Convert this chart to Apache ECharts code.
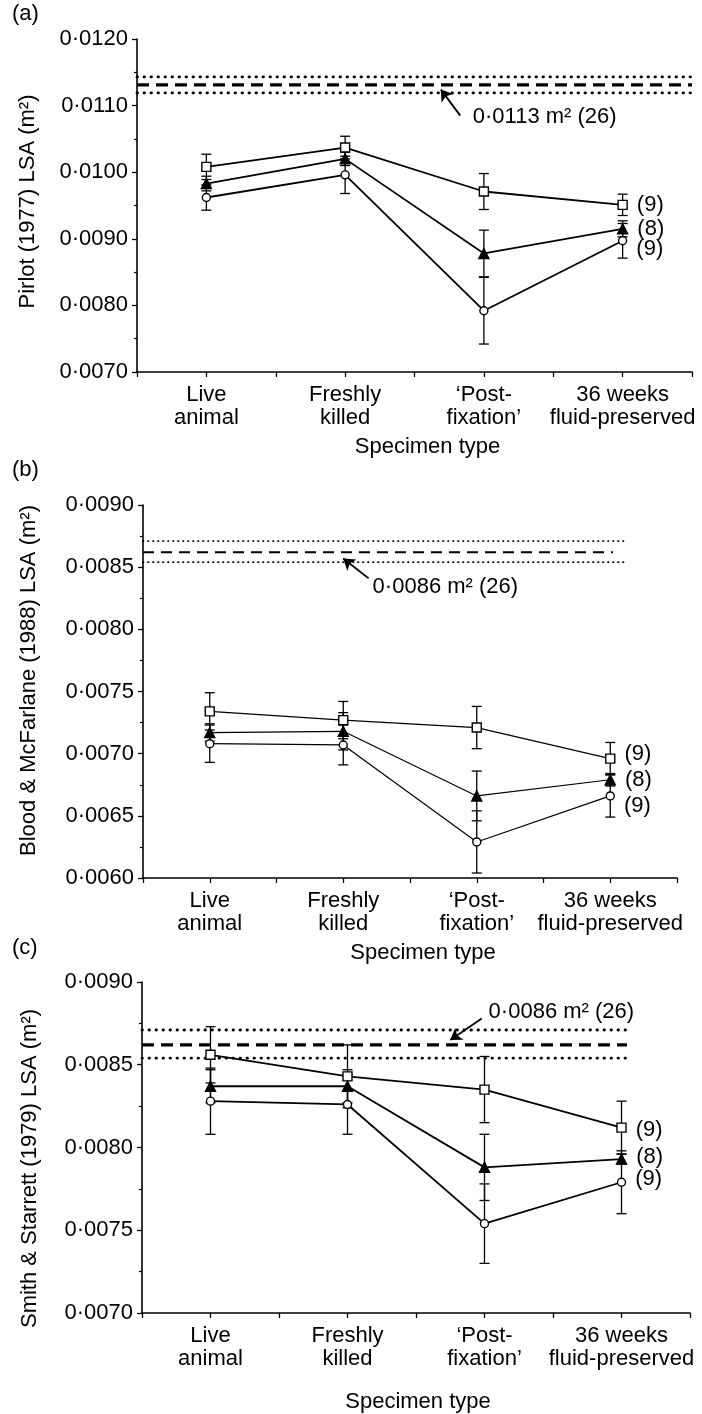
<!DOCTYPE html>
<html><head><meta charset="utf-8">
<script src="https://cdn.jsdelivr.net/npm/echarts@6/dist/echarts.min.js"></script>
<style>html,body{margin:0;padding:0;background:#fff}#c{width:702px;height:1414px}</style>
</head><body><div id="c"></div>
<script>
// ---------- DATA ----------
const categories = ['Live\nanimal', 'Freshly\nkilled', '\u2018Post-\nfixation\u2019', '36 weeks\nfluid-preserved'];
const sampleSizes = ['(9)', '(8)', '(9)']; // square, triangle, circle

// Panel (a) Pirlot (1977)
const aSquare = [0.01008, 0.01037, 0.00971, 0.00951];
const aSquareErr = [0.00019, 0.00017, 0.00027, 0.00016];
const aTriangle = [0.00983, 0.01020, 0.00878, 0.00915];
const aTriangleErr = [0.00011, 0.00010, 0.00035, 0.00012];
const aCircle = [0.00962, 0.00996, 0.00792, 0.00897];
const aCircleErr = [0.00019, 0.00028, 0.00050, 0.00026];
const aRef = [0.01119, 0.01131, 0.01143]; // low, mean, high
const aRefLabel = '0\u00b70113 m\u00b2 (26)';

// Panel (b) Blood & McFarlane (1988)
const bSquare = [0.00734, 0.00727, 0.00721, 0.00696];
const bSquareErr = [0.00015, 0.00015, 0.00017, 0.00013];
const bTriangle = [0.00717, 0.00718, 0.00666, 0.00679];
const bTriangleErr = [0.00007, 0.00015, 0.00020, 0.00005];
const bCircle = [0.00708, 0.00707, 0.00629, 0.00666];
const bCircleErr = [0.00015, 0.00016, 0.00025, 0.00017];
const bRef = [0.00854, 0.00862, 0.00871];
const bRefLabel = '0\u00b70086 m\u00b2 (26)';

// Panel (c) Smith & Starrett (1979)
const cSquare = [0.00856, 0.00843, 0.00835, 0.00812];
const cSquareErr = [0.00017, 0.00019, 0.00020, 0.00016];
const cTriangle = [0.00837, 0.00837, 0.00788, 0.00793];
const cTriangleErr = [0.00010, 0.00010, 0.00020, 0.00003];
const cCircle = [0.00828, 0.00826, 0.00754, 0.00779];
const cCircleErr = [0.00020, 0.00018, 0.00024, 0.00019];
const cRef = [0.00854, 0.00862, 0.00871];
const cRefLabel = '0\u00b70086 m\u00b2 (26)';

// ---------- LAYOUT ----------
const FONT = '"Liberation Sans", Arial, Helvetica, sans-serif';
const panels = [
  { tag: '(a)', tagY: 3, name: 'Pirlot (1977) LSA (m\u00b2)',
    grid: { left: 137, top: 39, width: 555, height: 333 },
    y: { min: 0.007, max: 0.012, interval: 0.001 },
    nameGap: 98, namePad: [0, 0, 0, 8], xNameGap: 64, xNamePad: [0, 0, 0, 26],
    sq: aSquare, sqE: aSquareErr, tr: aTriangle, trE: aTriangleErr, ci: aCircle, ciE: aCircleErr,
    ref: aRef, refLabel: aRefLabel, refEnd: [3.5, 3.5, 3.5], thick: true,
    arrow: [[1.83, 0.01085], [1.69, 0.01124]], text: [1.92, 0.01083],
    endOffsets: [0, 0, 8], lw: 1.8 },
  { tag: '(b)', tagY: 459, name: 'Blood & McFarlane (1988) LSA (m\u00b2)',
    grid: { left: 143, top: 505, width: 534, height: 373 },
    y: { min: 0.006, max: 0.009, interval: 0.0005 },
    nameGap: 103, namePad: [0, 0, 0, 22], xNameGap: 64, xNamePad: [0, 0, 0, 26],
    sq: bSquare, sqE: bSquareErr, tr: bTriangle, trE: bTriangleErr, ci: bCircle, ciE: bCircleErr,
    ref: bRef, refLabel: bRefLabel, refEnd: [3.12, 3.02, 3.12], thick: false,
    arrow: [[1.19, 0.00841], [1.0, 0.00857]], text: [1.22, 0.00834],
    endOffsets: [-5, 0, 10], lw: 1.2 },
  { tag: '(c)', tagY: 937, name: 'Smith & Starrett (1979) LSA (m\u00b2)',
    grid: { left: 142, top: 982, width: 548, height: 331 },
    y: { min: 0.007, max: 0.009, interval: 0.0005 },
    nameGap: 101, namePad: [0, 42, 0, 0], xNameGap: 78, xNamePad: [0, 0, 0, 4],
    sq: cSquare, sqE: cSquareErr, tr: cTriangle, trE: cTriangleErr, ci: cCircle, ciE: cCircleErr,
    ref: cRef, refLabel: cRefLabel, refEnd: [3.04, 3.04, 3.04], thick: true,
    arrow: [[1.98, 0.00878], [1.75, 0.00865]], text: [2.03, 0.00882],
    endOffsets: [2, -2, -3], lw: 1.8 }
];

const grids = [], xAxes = [], yAxes = [], series = [], graphics = [];

function fmtY(v) { return v.toFixed(4).replace('.', '\u00b7'); }

function errorSeries(idx, means, errs) {
  return {
    type: 'custom', xAxisIndex: idx, yAxisIndex: idx, z: 2, silent: true,
    data: means.map((m, i) => [i, m, errs[i]]),
    renderItem: function (params, api) {
      const x = api.value(0), m = api.value(1), e = api.value(2);
      const top = api.coord([x, m + e]);
      const bot = api.coord([x, m - e]);
      const cw = 5;
      const st = { stroke: '#000', lineWidth: 1.3 };
      return { type: 'group', children: [
        { type: 'line', shape: { x1: top[0], y1: top[1], x2: bot[0], y2: bot[1] }, style: st },
        { type: 'line', shape: { x1: top[0] - cw, y1: top[1], x2: top[0] + cw, y2: top[1] }, style: st },
        { type: 'line', shape: { x1: bot[0] - cw, y1: bot[1], x2: bot[0] + cw, y2: bot[1] }, style: st }
      ]};
    }
  };
}

panels.forEach((p, idx) => {
  grids.push(Object.assign({}, p.grid));
  xAxes.push({
    type: 'value', gridIndex: idx, min: -0.5, max: 3.5, interval: 0.5,
    name: 'Specimen type', nameLocation: 'middle', nameGap: p.xNameGap,
    nameTextStyle: { fontFamily: FONT, fontSize: 22, color: '#000', padding: p.xNamePad },
    axisLine: { show: true, onZero: false, lineStyle: { color: '#000', width: 1.6 } },
    axisTick: { show: true, length: 5, lineStyle: { color: '#000', width: 1.3 } },
    splitLine: { show: false },
    axisLabel: {
      show: true, margin: 11, fontFamily: FONT, fontSize: 22, color: '#000', lineHeight: 23,
      showMinLabel: true, showMaxLabel: true,
      formatter: function (v) {
        const r = Math.round(v);
        return (Math.abs(v - r) < 1e-6 && r >= 0 && r < categories.length) ? categories[r] : '';
      }
    }
  });
  yAxes.push({
    type: 'value', gridIndex: idx, min: p.y.min, max: p.y.max, interval: p.y.interval,
    name: p.name, nameLocation: 'middle', nameRotate: 90, nameGap: p.nameGap,
    nameTextStyle: { fontFamily: FONT, fontSize: 22, color: '#000', padding: p.namePad },
    axisLine: { show: true, onZero: false, lineStyle: { color: '#000', width: 1.6 } },
    axisTick: { show: true, length: 5, lineStyle: { color: '#000', width: 1.3 } },
    minorTick: { show: true, splitNumber: 2, length: 3, lineStyle: { color: '#000', width: 1.2 } },
    splitLine: { show: false }, minorSplitLine: { show: false },
    axisLabel: { margin: 9, fontFamily: FONT, fontSize: 22, color: '#000', formatter: fmtY }
  });

  // reference band lines (low dotted, mean dashed, high dotted)
  const dotStyle = p.thick ? { width: 2.8, type: [0.5, 6.5], cap: 'round' } : { width: 1.7, type: [0.5, 4.5], cap: 'round' };
  const dashStyle = p.thick ? { width: 3.2, type: [12, 7] } : { width: 2, type: [11, 7] };
  p.ref.forEach((v, k) => {
    series.push({
      type: 'line', xAxisIndex: idx, yAxisIndex: idx, z: 1, silent: true, symbol: 'none',
      data: [[-0.5, v], [p.refEnd[k], v]],
      lineStyle: Object.assign({ color: '#000' }, k === 1 ? dashStyle : dotStyle)
    });
  });

  // arrow
  series.push({
    type: 'lines', coordinateSystem: 'cartesian2d', xAxisIndex: idx, yAxisIndex: idx, z: 3, silent: true,
    symbol: ['none', 'arrow'], symbolSize: 11,
    lineStyle: { color: '#000', width: 1.8, opacity: 1 },
    data: [{ coords: [p.arrow[0], p.arrow[1]] }]
  });

  // error bars
  series.push(errorSeries(idx, p.sq, p.sqE));
  series.push(errorSeries(idx, p.tr, p.trE));
  series.push(errorSeries(idx, p.ci, p.ciE));

  // data lines
  const defs = [
    { vals: p.sq, symbol: 'rect', size: 9, fill: '#fff' },
    { vals: p.tr, symbol: 'triangle', size: 10, fill: '#000' },
    { vals: p.ci, symbol: 'circle', size: 8, fill: '#fff' }
  ];
  defs.forEach((d, k) => {
    series.push({
      type: 'line', xAxisIndex: idx, yAxisIndex: idx, z: 4, silent: true,
      symbol: d.symbol, symbolSize: d.size, showAllSymbol: true,
      lineStyle: { color: '#000', width: p.lw },
      itemStyle: { color: d.fill, borderColor: '#000', borderWidth: 1.4 },
      data: d.vals.map((v, i) => {
        const item = { value: [i, v] };
        if (i === d.vals.length - 1) {
          item.label = { show: true, position: 'right', distance: 9, formatter: sampleSizes[k],
            offset: [0, p.endOffsets[k]], fontFamily: FONT, fontSize: 22, color: '#000' };
        }
        return item;
      })
    });
  });

  graphics.push({ type: 'text', left: 12, top: p.tagY,
    style: { text: p.tag, font: '22px ' + FONT, fill: '#000' } });
});

const chart = echarts.init(document.getElementById('c'), null, { renderer: 'canvas' });
chart.setOption({
  animation: false,
  backgroundColor: '#fff',
  grid: grids, xAxis: xAxes, yAxis: yAxes, series: series, graphic: graphics
});

// annotation texts placed through the axes' own scales
const annot = panels.map((p, idx) => {
  const pt = chart.convertToPixel({ gridIndex: idx }, p.text);
  return { type: 'text', x: pt[0], y: pt[1], z: 10,
    style: { text: p.refLabel, font: '22px ' + FONT, fill: '#000', textVerticalAlign: 'middle', verticalAlign: 'middle' } };
});
chart.setOption({ graphic: graphics.concat(annot) });
</script></body></html>
